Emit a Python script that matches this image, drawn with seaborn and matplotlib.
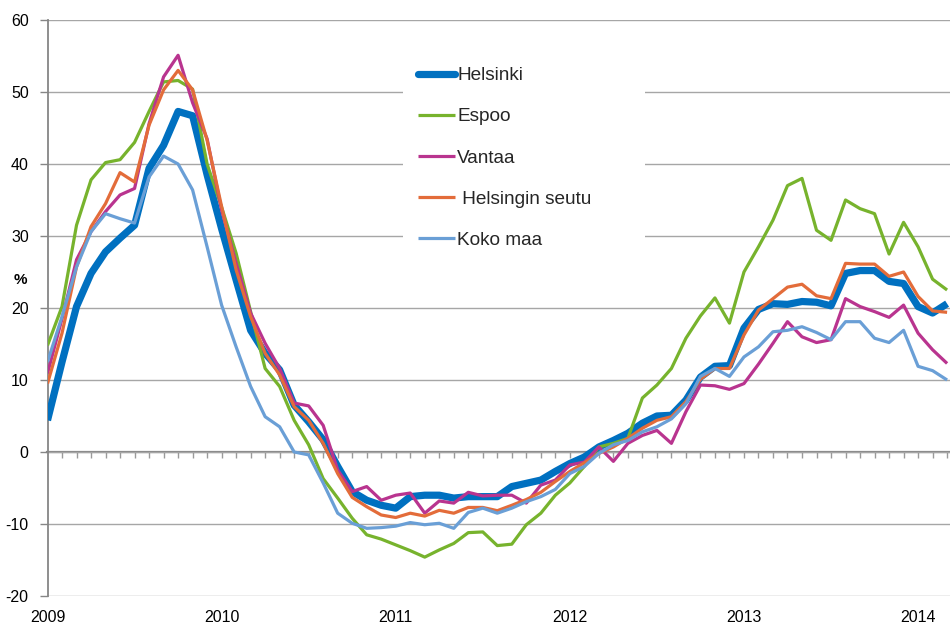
import numpy as np
import pandas as pd
import matplotlib
matplotlib.use("Agg")
import matplotlib.pyplot as plt
import seaborn as sns
from matplotlib.lines import Line2D
from matplotlib.patches import Rectangle

# ---- data (monthly, Jan 2009 .. Mar 2014) ----
year_labels = ["2009", "2010", "2011", "2012", "2013", "2014"]
months = list(range(63))

helsinki = [4.4, 12.5, 20.2, 24.8, 27.8, 29.7, 31.5, 39.4, 42.6, 47.3, 46.7, 38.5,
            31.0, 23.9, 16.9, 13.7, 11.4, 6.5, 4.2, 1.7, -2.0, -5.5, -6.7, -7.4,
            -7.8, -6.2, -6.0, -6.0, -6.4, -6.2, -6.2, -6.2, -4.8, -4.35, -3.9, -2.7,
            -1.6, -0.7, 0.7, 1.6, 2.6, 4.0, 5.0, 5.1, 7.2, 10.4, 11.9, 12.0,
            17.2, 19.8, 20.6, 20.5, 20.9, 20.8, 20.3, 24.8, 25.2, 25.2, 23.7, 23.4,
            20.2, 19.3, 20.6]
espoo = [14.8, 20.2, 31.5, 37.8, 40.2, 40.6, 43.0, 47.3, 51.4, 51.6, 50.4, 40.0,
         34.0, 27.6, 19.5, 11.6, 9.1, 4.4, 1.0, -3.7, -6.4, -9.2, -11.5, -12.1,
         -12.9, -13.7, -14.6, -13.6, -12.7, -11.2, -11.1, -13.0, -12.8, -10.1, -8.5, -6.0,
         -4.3, -2.0, 0.7, 1.2, 1.9, 7.5, 9.3, 11.6, 15.8, 18.9, 21.4, 17.9,
         25.0, 28.5, 32.2, 37.0, 38.0, 30.8, 29.4, 35.0, 33.8, 33.1, 27.5, 31.9,
         28.5, 24.0, 22.5]
vantaa = [10.9, 18.5, 26.7, 30.6, 33.4, 35.7, 36.6, 45.6, 52.1, 55.1, 48.5, 43.5,
          33.6, 26.2, 19.3, 15.1, 11.6, 6.8, 6.4, 3.7, -2.5, -5.5, -4.8, -6.7,
          -6.0, -5.7, -8.5, -6.8, -7.1, -5.6, -6.1, -6.0, -6.0, -7.1, -4.6, -3.9,
          -1.8, -1.4, 0.7, -1.3, 1.2, 2.3, 3.0, 1.2, 5.6, 9.3, 9.2, 8.7,
          9.5, 12.2, 15.1, 18.1, 16.0, 15.2, 15.6, 21.3, 20.2, 19.5, 18.7, 20.4,
          16.5, 14.2, 12.3]
seutu = [9.5, 16.5, 25.7, 31.3, 34.5, 38.8, 37.5, 45.4, 50.3, 53.0, 50.3, 43.3,
         34.1, 25.3, 18.8, 13.7, 10.7, 6.3, 4.4, 1.2, -3.0, -6.3, -7.6, -8.75,
         -9.1, -8.5, -8.9, -8.1, -8.5, -7.7, -7.7, -8.15, -7.4, -6.6, -5.6, -4.1,
         -2.7, -1.5, -0.2, 0.7, 1.9, 3.3, 4.4, 4.9, 7.0, 10.1, 11.6, 11.6,
         16.25, 19.7, 21.3, 22.9, 23.3, 21.7, 21.3, 26.2, 26.1, 26.1, 24.4, 25.0,
         21.6, 19.6, 19.4]
koko_maa = [12.5, 18.8, 25.7, 30.6, 33.1, 32.4, 31.8, 38.2, 41.1, 40.0, 36.4, 28.5,
            20.4, 14.6, 9.1, 4.9, 3.5, 0.0, -0.4, -4.3, -8.5, -9.9, -10.6, -10.5,
            -10.3, -9.8, -10.1, -9.9, -10.6, -8.4, -7.8, -8.5, -7.8, -6.9, -6.2, -5.2,
            -3.0, -2.0, -0.2, 1.0, 1.6, 2.8, 3.5, 4.6, 6.7, 10.5, 11.6, 10.5,
            13.2, 14.6, 16.7, 16.9, 17.4, 16.6, 15.6, 18.1, 18.1, 15.8, 15.2, 16.9,
            11.9, 11.3, 10.0]

series_names = ["Helsinki", "Espoo", "Vantaa", " Helsingin seutu", "Koko maa"]
series_values = [helsinki, espoo, vantaa, seutu, koko_maa]
colors = ["#0070C0", "#77B32D", "#B9348F", "#E36C3A", "#6A9FD6"]
widths = [5.2, 2.3, 2.3, 2.3, 2.3]

sns.set_theme(style="white")
plt.rcParams["font.family"] = ["Liberation Sans", "DejaVu Sans"]
plt.rcParams["axes.unicode_minus"] = False

fig = plt.figure(figsize=(9.5, 6.25), dpi=100)
ax = fig.add_axes([47.5 / 950, 29 / 625, 902.5 / 950, 576 / 625])

for k, (name, vals, c, w) in enumerate(zip(series_names, series_values, colors, widths)):
    df = pd.DataFrame({"month": months, "value": vals})
    sns.lineplot(data=df, x="month", y="value", ax=ax, color=c, linewidth=w,
                 legend=False, zorder=3 + k, solid_joinstyle="round",
                 solid_capstyle="butt")

ax.set_xlim(0, 62.2)
ax.set_ylim(-20, 60)
ax.set_xlabel("")
ax.set_ylabel("")

# y axis
ax.set_yticks(range(-20, 61, 10))
ax.yaxis.grid(True, color="#A6A6A6", linewidth=1.0)
ax.xaxis.grid(False)
ax.tick_params(axis="y", left=True, length=5.5, width=1.0, color="#868686",
               pad=8, labelsize=11.5, labelcolor="black", direction="out")
for s in ["top", "right", "bottom"]:
    ax.spines[s].set_visible(False)
ax.spines["left"].set_color("#868686")
ax.spines["left"].set_linewidth(1.3)

# year labels at the bottom
ax.set_xticks([12 * i for i in range(len(year_labels))], labels=year_labels)
ax.tick_params(axis="x", bottom=False, length=0, pad=10, labelsize=11.5,
               labelcolor="black")

# category axis crossing at zero with monthly tick marks
sec = ax.secondary_xaxis(0, transform=ax.transData)
sec.set_xticks(months[1:])
sec.tick_params(axis="x", which="major", bottom=True, length=4.5, width=1.0,
                color="#9A9A9A", direction="out", labelbottom=False)
sec.spines["bottom"].set_color("#868686")
sec.spines["bottom"].set_linewidth(1.6)
sec.spines["top"].set_visible(False)

# percent label
fig.text(20 / 950, 1 - 280 / 625, "%", fontsize=11, fontweight="bold",
         ha="center", va="center", color="black")

# legend with white background box
bg = Rectangle((403 / 950, 1 - 262 / 625), 242 / 950, 212 / 625,
               transform=fig.transFigure, facecolor="white", edgecolor="none",
               zorder=1.5, clip_on=False)
ax.add_patch(bg)
handles = []
for k, (c, w) in enumerate(zip(colors, widths)):
    handles.append(Line2D([], [], color=c, linewidth=w,
                          solid_capstyle="round" if k == 0 else "butt"))
leg = ax.legend(handles, series_names, loc="upper left",
                bbox_to_anchor=(418 / 950, 1 - 67 / 625),
                bbox_transform=fig.transFigure, frameon=False, fontsize=13.7,
                handlelength=1.95, handletextpad=0.1, labelspacing=1.25,
                borderpad=0, borderaxespad=0)
leg.set_zorder(10)

fig.savefig("out.png", dpi=100)
